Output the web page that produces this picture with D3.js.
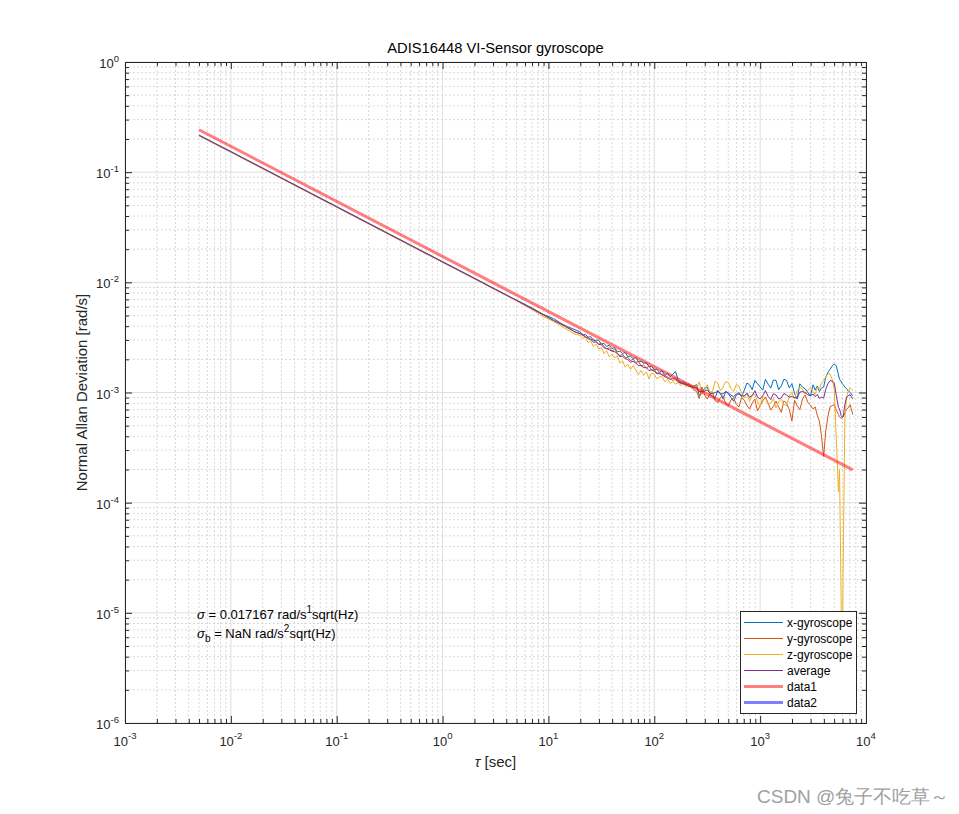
<!DOCTYPE html>
<html><head><meta charset="utf-8">
<script src="https://cdn.jsdelivr.net/npm/d3@7/dist/d3.min.js"></script>
<style>
body{margin:0;background:#fff;}
text{font-family:"Liberation Sans",Arial,Helvetica,sans-serif;}
</style>
</head><body>
<svg id="chart" width="959" height="814"></svg>
<script>
// ---------- data ----------
const tau = [0.005, 0.01, 0.0316, 0.1, 0.316, 1, 2, 3.16, 5.01, 7.08, 8.91, 11.2, 14.1, 17.8,
  19.95, 21.13, 22.39, 23.71, 25.12, 26.61, 28.18, 29.85, 31.62, 33.50, 35.48, 37.58, 39.81, 42.17,
  44.67, 47.32, 50.12, 53.09, 56.23, 59.57, 63.10, 66.83, 70.79, 74.99, 79.43, 84.14, 89.13, 94.41,
  100, 105.9, 112.2, 118.9, 125.9, 133.4, 141.3, 149.6, 158.5, 167.9, 177.8, 188.4, 199.5, 211.3, 223.9, 237.1,
  251.2, 266.1, 281.8, 298.5, 316.2, 335.0, 354.8, 375.8, 398.1, 421.7, 446.7, 473.2, 501.2, 530.9, 562.3,
  595.7, 631.0, 668.3, 707.9, 749.9, 794.3, 841.4, 891.3, 944.1, 1000, 1059, 1122, 1189, 1259, 1334, 1413,
  1496, 1585, 1679, 1778, 1884, 1995, 2113, 2239, 2371, 2512, 2661, 2818, 2985, 3162,
  3311, 3467, 3631, 3802, 3981, 4169, 4365, 4571, 4786, 5012, 5248, 5495, 5623, 5821, 5957, 6095,
  6310, 6531, 6761, 7079, 7499];

const xGyro = [0.2173, 0.1542, 0.0867, 0.0488, 0.0274, 0.01542, 0.01092, 0.00867, 0.00689, 5.82e-3, 5.13e-3, 4.68e-3, 4.07e-3, 3.72e-3,
  3.54e-3, 3.32e-3, 3.37e-3, 3.17e-3, 3.22e-3, 2.96e-3, 2.98e-3, 2.98e-3, 2.75e-3, 2.79e-3, 2.62e-3, 2.69e-3, 2.50e-3, 2.56e-3,
  2.34e-3, 2.37e-3, 2.26e-3, 2.31e-3, 2.11e-3, 2.14e-3, 2.03e-3, 2.08e-3, 1.90e-3, 1.92e-3, 1.83e-3, 1.87e-3, 1.71e-3, 1.73e-3,
  1.60e-3, 1.63e-3, 1.52e-3, 1.58e-3, 1.42e-3, 1.50e-3, 1.39e-3, 1.47e-3, 1.55e-3, 1.31e-3, 1.22e-3, 1.26e-3, 1.17e-3, 1.20e-3, 1.12e-3, 1.15e-3,
  1.175e-3, 0.93e-3, 1.000e-3, 1.09e-3, 1.122e-3, 0.98e-3, 0.912e-3, 0.89e-3, 1.047e-3, 0.98e-3, 0.871e-3, 1.02e-3, 0.977e-3, 0.90e-3, 0.832e-3,
  0.95e-3, 1.000e-3, 0.92e-3, 1.047e-3, 1.22e-3, 1.175e-3, 1.06e-3, 1.288e-3, 1.20e-3, 1.122e-3, 1.05e-3, 1.318e-3, 1.19e-3, 1.096e-3, 1.30e-3, 1.288e-3,
  1.06e-3, 1.148e-3, 1.32e-3, 1.288e-3, 1.10e-3, 1.202e-3, 0.98e-3, 0.871e-3, 1.20e-3, 1.122e-3, 1.08e-3, 1.000e-3, 0.93e-3, 1.175e-3,
  1.05e-3, 1.148e-3, 1.02e-3, 1.096e-3, 1.122e-3, 1.380e-3, 1.514e-3, 1.622e-3, 1.738e-3, 1.820e-3, 1.738e-3, 1.445e-3, 1.318e-3, 1.259e-3, 1.202e-3, 1.175e-3,
  1.122e-3, 1.08e-3, 1.047e-3, 1.000e-3, 0.933e-3];

const yGyro = [0.2148, 0.1524, 0.0857, 0.0482, 0.0271, 0.01524, 0.01079, 0.00857, 0.00681, 5.69e-3, 5.13e-3, 4.47e-3, 4.12e-3, 3.55e-3,
  3.42e-3, 3.40e-3, 3.16e-3, 3.17e-3, 3.01e-3, 3.06e-3, 2.91e-3, 2.73e-3, 2.81e-3, 2.61e-3, 2.48e-3, 2.55e-3, 2.39e-3, 2.46e-3,
  2.29e-3, 2.15e-3, 2.23e-3, 2.07e-3, 2.08e-3, 1.94e-3, 2.01e-3, 1.87e-3, 1.92e-3, 1.75e-3, 1.77e-3, 1.67e-3, 1.73e-3, 1.59e-3,
  1.61e-3, 1.50e-3, 1.51e-3, 1.43e-3, 1.45e-3, 1.34e-3, 1.36e-3, 1.29e-3, 1.31e-3, 1.23e-3, 1.26e-3, 1.18e-3, 1.22e-3, 1.12e-3, 1.16e-3, 1.05e-3,
  1.023e-3, 0.88e-3, 1.122e-3, 0.95e-3, 0.871e-3, 0.97e-3, 1.000e-3, 0.84e-3, 0.813e-3, 0.90e-3, 0.933e-3, 0.79e-3, 0.759e-3, 0.86e-3, 0.891e-3,
  0.78e-3, 0.741e-3, 0.90e-3, 0.851e-3, 0.76e-3, 0.708e-3, 0.80e-3, 0.871e-3, 0.68e-3, 0.759e-3, 0.84e-3, 0.912e-3, 0.80e-3, 0.692e-3, 0.75e-3, 0.832e-3,
  0.74e-3, 0.661e-3, 0.84e-3, 0.794e-3, 0.70e-3, 0.550e-3, 0.85e-3, 0.759e-3, 0.70e-3, 0.871e-3, 0.95e-3, 0.813e-3, 0.77e-3, 0.708e-3,
  0.74e-3, 0.617e-3, 0.55e-3, 0.398e-3, 0.263e-3, 0.447e-3, 0.603e-3, 0.741e-3, 0.759e-3, 0.776e-3, 0.692e-3, 0.631e-3, 0.603e-3, 0.582e-3, 0.589e-3, 0.603e-3,
  0.646e-3, 0.70e-3, 0.724e-3, 0.776e-3, 0.631e-3];

const zGyro = [0.2143, 0.1520, 0.0855, 0.0481, 0.0270, 0.01520, 0.01077, 0.00855, 0.00680, 5.62e-3, 4.90e-3, 4.42e-3, 3.85e-3, 3.39e-3,
  3.30e-3, 3.10e-3, 3.19e-3, 2.82e-3, 2.95e-3, 2.60e-3, 2.75e-3, 2.48e-3, 2.56e-3, 2.25e-3, 2.39e-3, 2.10e-3, 2.23e-3, 2.06e-3,
  2.16e-3, 1.85e-3, 1.94e-3, 1.70e-3, 1.81e-3, 1.62e-3, 1.75e-3, 1.60e-3, 1.45e-3, 1.59e-3, 1.43e-3, 1.54e-3, 1.33e-3, 1.50e-3,
  1.46e-3, 1.33e-3, 1.39e-3, 1.39e-3, 1.25e-3, 1.32e-3, 1.21e-3, 1.26e-3, 1.19e-3, 1.23e-3, 1.16e-3, 1.21e-3, 1.13e-3, 1.19e-3, 1.09e-3, 1.16e-3,
  1.096e-3, 1.25e-3, 0.955e-3, 1.04e-3, 1.175e-3, 1.01e-3, 1.023e-3, 1.27e-3, 1.202e-3, 1.04e-3, 1.122e-3, 1.26e-3, 1.230e-3, 1.08e-3, 1.023e-3,
  1.18e-3, 1.148e-3, 0.98e-3, 0.891e-3, 0.98e-3, 0.832e-3, 0.95e-3, 0.955e-3, 0.84e-3, 0.741e-3, 0.92e-3, 0.891e-3, 0.78e-3, 0.794e-3, 0.88e-3, 0.724e-3,
  0.82e-3, 0.871e-3, 0.78e-3, 0.759e-3, 0.93e-3, 1.000e-3, 0.87e-3, 1.047e-3, 1.12e-3, 1.072e-3, 0.97e-3, 1.047e-3, 1.10e-3, 1.023e-3,
  0.96e-3, 1.122e-3, 1.08e-3, 1.230e-3, 1.288e-3, 1.380e-3, 1.479e-3, 1.479e-3, 1.318e-3, 1.072e-3, 0.372e-3, 0.126e-3, 0.200e-3, 0.0132e-3, 0.0020e-3, 0.0302e-3,
  0.562e-3, 0.90e-3, 1.023e-3, 1.096e-3, 1.047e-3];

const avgGyro = [0.2158, 0.1531, 0.0861, 0.0484, 0.0272, 0.01531, 0.01084, 0.00861, 0.00684, 5.73e-3, 5.07e-3, 4.52e-3, 4.01e-3, 3.55e-3,
  3.42e-3, 3.29e-3, 3.23e-3, 3.07e-3, 3.05e-3, 2.86e-3, 2.88e-3, 2.73e-3, 2.72e-3, 2.55e-3, 2.51e-3, 2.44e-3, 2.37e-3, 2.35e-3,
  2.26e-3, 2.12e-3, 2.13e-3, 2.03e-3, 1.99e-3, 1.89e-3, 1.92e-3, 1.85e-3, 1.76e-3, 1.75e-3, 1.68e-3, 1.68e-3, 1.58e-3, 1.61e-3,
  1.56e-3, 1.48e-3, 1.48e-3, 1.46e-3, 1.38e-3, 1.38e-3, 1.31e-3, 1.35e-3, 1.35e-3, 1.26e-3, 1.21e-3, 1.21e-3, 1.17e-3, 1.17e-3, 1.12e-3, 1.12e-3,
  1.098e-3, 1.020e-3, 1.026e-3, 1.027e-3, 1.056e-3, 0.987e-3, 0.978e-3, 1.000e-3, 1.021e-3, 0.973e-3, 0.975e-3, 1.023e-3, 0.989e-3, 0.947e-3, 0.915e-3,
  0.970e-3, 0.963e-3, 0.933e-3, 0.930e-3, 0.987e-3, 0.905e-3, 0.937e-3, 1.038e-3, 0.907e-3, 0.874e-3, 0.937e-3, 1.040e-3, 0.923e-3, 0.861e-3, 0.977e-3, 0.948e-3,
  0.873e-3, 0.893e-3, 0.980e-3, 0.947e-3, 0.910e-3, 0.917e-3, 0.900e-3, 0.892e-3, 1.007e-3, 1.022e-3, 1.000e-3, 0.953e-3, 0.933e-3, 0.969e-3,
  0.917e-3, 0.962e-3, 0.883e-3, 0.908e-3, 0.891e-3, 1.069e-3, 1.199e-3, 1.281e-3, 1.272e-3, 1.223e-3, 0.934e-3, 0.734e-3, 0.707e-3, 0.618e-3, 0.598e-3, 0.603e-3,
  0.777e-3, 0.893e-3, 0.931e-3, 0.957e-3, 0.870e-3];

const data1Tau = [0.005, 7500];
const data1Adev = [0.2428, 1.982e-4];

const xTickExps = [-3, -2, -1, 0, 1, 2, 3, 4];
const yTickExps = [-6, -5, -4, -3, -2, -1, 0];

const seriesNames = ["x-gyroscope", "y-gyroscope", "z-gyroscope", "average", "data1", "data2"];
const seriesColors = ["#0072BD", "#D95319", "#EDB120", "#7E2F8E", "rgba(255,0,0,0.5)", "rgba(0,0,255,0.5)"];
const seriesWidths = [1, 1, 1, 1, 3, 3];

const titleText = "ADIS16448 VI-Sensor gyroscope";
const yLabelText = "Normal Allan Deviation [rad/s]";
const sigmaValue = "0.017167";
const sigmaBValue = "NaN";

// ---------- layout ----------
const svg = d3.select("#chart");
const L = 125, R = 866, T = 62, B = 723;
const x = d3.scaleLog().domain([1e-3, 1e4]).range([L, R]);
const y = d3.scaleLog().domain([1e-6, 1]).range([B, T]);
const axisColor = "#262626";

const majorX = xTickExps.map(e => Math.pow(10, e));
const majorY = yTickExps.map(e => Math.pow(10, e));
const minorOf = (exps) => {
  const out = [];
  for (let i = 0; i < exps.length - 1; i++)
    for (let k = 2; k <= 9; k++) out.push(k * Math.pow(10, exps[i]));
  return out;
};
const minorX = minorOf(xTickExps), minorY = minorOf(yTickExps);

svg.append("rect").attr("width", 959).attr("height", 814).attr("fill", "#fff");

// grid
const grid = svg.append("g");
grid.selectAll(".gxm").data(minorX).join("line")
  .attr("x1", d => x(d)).attr("x2", d => x(d)).attr("y1", T).attr("y2", B)
  .attr("stroke", "#d9d9d9").attr("stroke-width", 1).attr("stroke-dasharray", "2,2");
grid.selectAll(".gym").data(minorY).join("line")
  .attr("y1", d => y(d)).attr("y2", d => y(d)).attr("x1", L).attr("x2", R)
  .attr("stroke", "#d9d9d9").attr("stroke-width", 1).attr("stroke-dasharray", "2,2");
grid.selectAll(".gxM").data(majorX).join("line")
  .attr("x1", d => x(d)).attr("x2", d => x(d)).attr("y1", T).attr("y2", B)
  .attr("stroke", "#dedede").attr("stroke-width", 1);
grid.selectAll(".gyM").data(majorY).join("line")
  .attr("y1", d => y(d)).attr("y2", d => y(d)).attr("x1", L).attr("x2", R)
  .attr("stroke", "#dedede").attr("stroke-width", 1);

// clip
svg.append("clipPath").attr("id", "clip").append("rect")
  .attr("x", L).attr("y", T).attr("width", R - L).attr("height", B - T);

const line = d3.line().x(d => x(d[0])).y(d => y(d[1]));
const plot = svg.append("g").attr("clip-path", "url(#clip)");
const gyroSeries = [xGyro, yGyro, zGyro, avgGyro];
gyroSeries.forEach((s, i) => {
  plot.append("path").datum(tau.map((t, j) => [t, s[j]]))
    .attr("d", line).attr("fill", "none")
    .attr("stroke", seriesColors[i]).attr("stroke-width", seriesWidths[i])
    .attr("stroke-linejoin", "round");
});
plot.append("path").datum(data1Tau.map((t, j) => [t, data1Adev[j]]))
  .attr("d", line).attr("fill", "none")
  .attr("stroke", "#ff0000").attr("stroke-opacity", 0.5).attr("stroke-width", 3);

// axes (ticks inside, all four sides)
function styleAxis(g) {
  g.selectAll("path").attr("stroke", axisColor);
  g.selectAll("line").attr("stroke", axisColor);
  g.selectAll("text").remove();
}
const mk = [
  [d3.axisBottom(x), B, true], [d3.axisTop(x), T, true],
  [d3.axisLeft(y), L, false], [d3.axisRight(y), R, false]
];
mk.forEach(([ax, pos, horiz]) => {
  const tr = horiz ? `translate(0,${pos})` : `translate(${pos},0)`;
  svg.append("g").attr("transform", tr)
    .call(ax.tickValues(horiz ? minorX : minorY).tickSize(-4).tickSizeOuter(0).tickFormat("")).call(styleAxis);
  svg.append("g").attr("transform", tr)
    .call(ax.tickValues(horiz ? majorX : majorY).tickSize(-7).tickSizeOuter(0).tickFormat("")).call(styleAxis);
});

// tick labels
const xl = svg.append("g").attr("fill", axisColor).attr("font-size", 13);
xTickExps.forEach(e => {
  const t = xl.append("text").attr("x", x(Math.pow(10, e))).attr("y", B + 23).attr("text-anchor", "middle");
  t.append("tspan").text("10");
  t.append("tspan").attr("dy", -7).attr("font-size", 9.5).text(String(e));
});
const yl = svg.append("g").attr("fill", axisColor).attr("font-size", 13);
yTickExps.forEach(e => {
  const t = yl.append("text").attr("x", L - 6).attr("y", y(Math.pow(10, e)) + 6).attr("text-anchor", "end");
  t.append("tspan").text("10");
  t.append("tspan").attr("dy", -6).attr("font-size", 9.5).text(String(e));
});

// title & labels
svg.append("text").attr("x", (L + R) / 2).attr("y", 53).attr("text-anchor", "middle")
  .attr("font-size", 14.7).attr("fill", "#000").text(titleText);
const xlab = svg.append("text").attr("x", (L + R) / 2).attr("y", 767).attr("text-anchor", "middle")
  .attr("font-size", 15).attr("fill", axisColor);
xlab.append("tspan").attr("font-style", "italic").text("τ");
xlab.append("tspan").text(" [sec]");
svg.append("text").attr("transform", `translate(87,${(T + B) / 2}) rotate(-90)`)
  .attr("text-anchor", "middle").attr("font-size", 15).attr("fill", axisColor).text(yLabelText);

// annotations
const a1 = svg.append("text").attr("x", x(0.0048)).attr("y", 619).attr("font-size", 13).attr("fill", "#000");
a1.append("tspan").attr("font-style", "italic").text("σ");
a1.append("tspan").text(" = " + sigmaValue + " rad/s");
a1.append("tspan").attr("dy", -6).attr("font-size", 10).text("1");
a1.append("tspan").attr("dy", 6).text("sqrt(Hz)");
const a2 = svg.append("text").attr("x", x(0.0048)).attr("y", 638).attr("font-size", 13).attr("fill", "#000");
a2.append("tspan").attr("font-style", "italic").text("σ");
a2.append("tspan").attr("dy", 4).attr("font-size", 10).text("b");
a2.append("tspan").attr("dy", -4).text(" = " + sigmaBValue + " rad/s");
a2.append("tspan").attr("dy", -6).attr("font-size", 10).text("2");
a2.append("tspan").attr("dy", 6).text("sqrt(Hz)");

// legend
const lg = svg.append("g");
lg.append("rect").attr("x", 740.5).attr("y", 611.5).attr("width", 116).attr("height", 102)
  .attr("fill", "#fff").attr("stroke", axisColor).attr("stroke-width", 1);
seriesNames.forEach((n, i) => {
  const yy = 622.5 + i * 16;
  lg.append("line").attr("x1", 744).attr("x2", 783).attr("y1", yy).attr("y2", yy)
    .attr("stroke", seriesColors[i]).attr("stroke-width", seriesWidths[i]);
  lg.append("text").attr("x", 787).attr("y", yy + 4.5).attr("font-size", 12).attr("fill", "#000").text(n);
});

// watermark
svg.append("text").attr("x", 757).attr("y", 803).attr("font-size", 19)
  .attr("font-family", "'Liberation Sans','Noto Sans CJK SC',sans-serif")
  .attr("fill", "#a0a0a0").text("CSDN @兔子不吃草～");
</script>
</body></html>
